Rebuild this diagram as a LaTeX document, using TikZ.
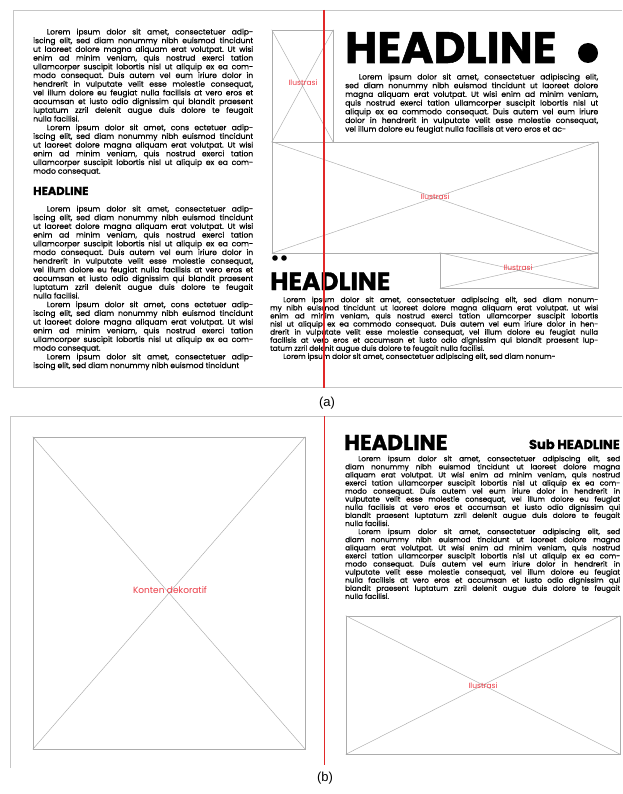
\documentclass[tikz,border=0pt]{standalone}
\usepackage{fontspec}
\setmainfont{Poppins}
\newfontfamily\bodyf{Poppins}[FakeBold=0.6]
\newfontfamily\headf{Poppins}[BoldFeatures={FakeBold=1.2}]
\newfontfamily\labfont{Liberation Sans}
\tolerance=9999
\hbadness=10000
\hfuzz=20pt
\frenchspacing
\definecolor{guidered}{RGB}{225,40,40}
\definecolor{labelred}{RGB}{235,60,70}
\tikzset{
  frame/.style={draw=gray!45, line width=0.9pt},
  imgbox/.style={draw=gray!65, line width=0.6pt, rectangle, inner sep=0pt},
  cross/.style={draw=gray!65, line width=0.45pt},
  guide/.style={draw=guidered, line width=1.1pt},
  lbl/.style={text=labelred, font=\fontsize{7.5}{8}\selectfont, inner sep=0.5pt},
  bodytext/.style={anchor=north west, inner sep=0pt, align=justify,
    font=\bodyf\fontsize{7.6}{8.7}\selectfont},
  bodytextb/.style={anchor=north west, inner sep=0pt, align=justify,
    font=\bodyf\fontsize{7.25}{8.1}\selectfont},
  head/.style={anchor=base west, inner sep=0pt},
  panellabel/.style={font=\labfont\fontsize{13}{14}\selectfont, inner sep=0pt}
}
\newcommand\ind{\hspace*{1.8em}}
\begin{document}
\begin{tikzpicture}[x=1pt,y=-1pt]
\useasboundingbox (0,0) rectangle (622,794);
\fill[white] (0,0) rectangle (622,794);

% ---------- panel (a) ----------
\draw[frame] (622,10) -- (13,10) -- (13,387) -- (622,387);

\node[bodytext, text width=220pt] (ta1) at (33,28.5) {%
\ind Lorem ipsum dolor sit amet, consectetuer adip-\linebreak
iscing elit, sed diam nonummy nibh euismod tincidunt\linebreak
ut laoreet dolore magna aliquam erat volutpat. Ut wisi\linebreak
enim ad minim veniam, quis nostrud exerci tation\linebreak
ullamcorper suscipit lobortis nisl ut aliquip ex ea com-\linebreak
modo consequat. Duis autem vel eum iriure dolor in\linebreak
hendrerit in vulputate velit esse molestie consequat,\linebreak
vel illum dolore eu feugiat nulla facilisis at vero eros et\linebreak
accumsan et iusto odio dignissim qui blandit praesent\linebreak
luptatum zzril delenit augue duis dolore te feugait\linebreak
nulla facilisi.\par
\ind Lorem ipsum dolor sit amet, cons ectetuer adip-\linebreak
iscing elit, sed diam nonummy nibh euismod tincidunt\linebreak
ut laoreet dolore magna aliquam erat volutpat. Ut wisi\linebreak
enim ad minim veniam, quis nostrud exerci tation\linebreak
ullamcorper suscipit lobortis nisl ut aliquip ex ea com-\linebreak
modo consequat.};

\node[head, font=\headf\bfseries\fontsize{11.5}{12}\selectfont] (ha1) at (33,195) {HEADLINE};

\node[bodytext, text width=220pt] (ta2) at (33,205.5) {%
\ind Lorem ipsum dolor sit amet, consectetuer adip-\linebreak
iscing elit, sed diam nonummy nibh euismod tincidunt\linebreak
ut laoreet dolore magna aliquam erat volutpat. Ut wisi\linebreak
enim ad minim veniam, quis nostrud exerci tation\linebreak
ullamcorper suscipit lobortis nisl ut aliquip ex ea com-\linebreak
modo consequat. Duis autem vel eum iriure dolor in\linebreak
hendrerit in vulputate velit esse molestie consequat,\linebreak
vel illum dolore eu feugiat nulla facilisis at vero eros et\linebreak
accumsan et iusto odio dignissim qui blandit praesent\linebreak
luptatum zzril delenit augue duis dolore te feugait\linebreak
nulla facilisi.\par
\ind Lorem ipsum dolor sit amet, cons ectetuer adip-\linebreak
iscing elit, sed diam nonummy nibh euismod tincidunt\linebreak
ut laoreet dolore magna aliquam erat volutpat. Ut wisi\linebreak
enim ad minim veniam, quis nostrud exerci tation\linebreak
ullamcorper suscipit lobortis nisl ut aliquip ex ea com-\linebreak
modo consequat.\par
\ind Lorem ipsum dolor sit amet, consectetuer adip-\linebreak
iscing elit, sed diam nonummy nibh euismod tincidunt};

% image placeholders (a)
\node[imgbox, minimum width=61pt, minimum height=112pt] (ia1) at (302.5,86) {};
\draw[cross] (ia1.north west) -- (ia1.south east) (ia1.north east) -- (ia1.south west);
\node[lbl] (la1) at (303,83) {Ilustrasi};

\node[imgbox, minimum width=326pt, minimum height=111pt] (ia2) at (435,197.5) {};
\draw[cross] (ia2.north west) -- (ia2.south east) (ia2.north east) -- (ia2.south west);
\node[lbl] (la2) at (435,197) {Ilustrasi};

\node[imgbox, minimum width=158pt, minimum height=35pt] (ia3) at (519,270.5) {};
\draw[cross] (ia3.north west) -- (ia3.south east) (ia3.north east) -- (ia3.south west);
\node[lbl] (la3) at (518,268) {Ilustrasi};

\node[head, font=\headf\bfseries\fontsize{44}{45}\selectfont] (ha2) at (345,63) {HEADLINE};
\fill (588,53) circle (10);

\node[bodytext, text width=253pt] (ta3) at (345,73.5) {%
\ind Lorem ipsum dolor sit amet, consectetuer adipiscing elit,\linebreak
sed diam nonummy nibh euismod tincidunt ut laoreet dolore\linebreak
magna aliquam erat volutpat. Ut wisi enim ad minim veniam,\linebreak
quis nostrud exerci tation ullamcorper suscipit lobortis nisl ut\linebreak
aliquip ex ea commodo consequat. Duis autem vel eum iriure\linebreak
dolor in hendrerit in vulputate velit esse molestie consequat,\linebreak
vel illum dolore eu feugiat nulla facilisis at vero eros et ac-};

\fill (275,258) circle (2.8) (284,258) circle (2.8);

\node[head, font=\headf\bfseries\fontsize{25}{26}\selectfont] (ha3) at (270,290) {HEADLINE};

\node[bodytextb, text width=328pt] (ta4) at (270,296.5) {%
\ind Lorem ipsum dolor sit amet, consectetuer adipiscing elit, sed diam nonum-\linebreak
my nibh euismod tincidunt ut laoreet dolore magna aliquam erat volutpat. ut wisi\linebreak
enim ad minim veniam, quis nostrud exerci tation ullamcorper suscipit lobortis\linebreak
nisl ut aliquip ex ea commodo consequat. Duis autem vel eum iriure dolor in hen-\linebreak
drerit in vulputate velit esse molestie consequat, vel illum dolore eu feugiat nulla\linebreak
facilisis at vero eros et accumsan et iusto odio dignissim qui blandit praesent lup-\linebreak
tatum zzril delenit augue duis dolore te feugait nulla facilisi.\par
\ind Lorem ipsum dolor sit amet, consectetuer adipiscing elit, sed diam nonum-};

\draw[guide] (324,10) -- (324,388);
\node[panellabel] (pa) at (327,403) {(a)};

% ---------- panel (b) ----------
\draw[frame] (622,416) -- (10,416) -- (10,768);

\node[imgbox, minimum width=272pt, minimum height=312pt] (ib1) at (169,593) {};
\draw[cross] (ib1.north west) -- (ib1.south east) (ib1.north east) -- (ib1.south west);
\node[lbl, font=\fontsize{9}{10}\selectfont] (lb1) at (170,590) {Konten dekoratif};

\node[head, font=\headf\bfseries\fontsize{21.5}{22}\selectfont] (hb1) at (344,450) {HEADLINE};
\node[anchor=base east, inner sep=0pt, font=\headf\bfseries\fontsize{13}{14}\selectfont] (hb2) at (620,449) {Sub HEADLINE};

\node[bodytextb, text width=275pt] (tb1) at (345,455.5) {%
\ind Lorem ipsum dolor sit amet, consectetuer adipiscing elit, sed\linebreak
diam nonummy nibh euismod tincidunt ut laoreet dolore magna\linebreak
aliquam erat volutpat. Ut wisi enim ad minim veniam, quis nostrud\linebreak
exerci tation ullamcorper suscipit lobortis nisl ut aliquip ex ea com-\linebreak
modo consequat. Duis autem vel eum iriure dolor in hendrerit in\linebreak
vulputate velit esse molestie consequat, vel illum dolore eu feugiat\linebreak
nulla facilisis at vero eros et accumsan et iusto odio dignissim qui\linebreak
blandit praesent luptatum zzril delenit augue duis dolore te feugait\linebreak
nulla facilisi.\par
\ind Lorem ipsum dolor sit amet, consectetuer adipiscing elit, sed\linebreak
diam nonummy nibh euismod tincidunt ut laoreet dolore magna\linebreak
aliquam erat volutpat. Ut wisi enim ad minim veniam, quis nostrud\linebreak
exerci tation ullamcorper suscipit lobortis nisl ut aliquip ex ea com-\linebreak
modo consequat. Duis autem vel eum iriure dolor in hendrerit in\linebreak
vulputate velit esse molestie consequat, vel illum dolore eu feugiat\linebreak
nulla facilisis at vero eros et accumsan et iusto odio dignissim qui\linebreak
blandit praesent luptatum zzril delenit augue duis dolore te feugait\linebreak
nulla facilisi.};

\node[imgbox, minimum width=274pt, minimum height=138pt] (ib2) at (483,685) {};
\draw[cross] (ib2.north west) -- (ib2.south east) (ib2.north east) -- (ib2.south west);
\node[lbl] (lb2) at (483,686) {Ilustrasi};

\draw[guide] (324.5,416) -- (324.5,765);
\node[panellabel] (pb) at (325,778) {(b)};
\end{tikzpicture}
\end{document}
